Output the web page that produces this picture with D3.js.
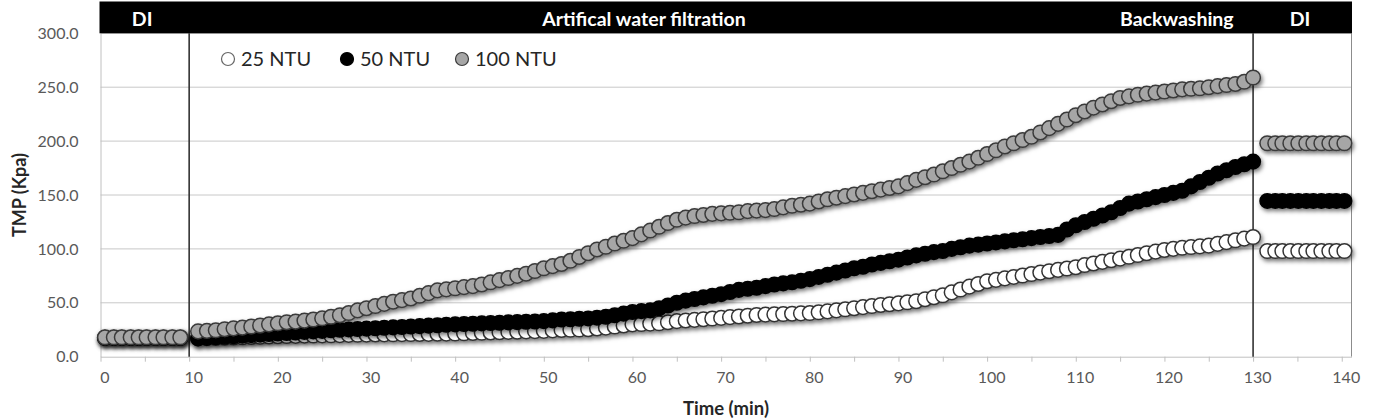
<!DOCTYPE html>
<html>
<head>
<meta charset="utf-8">
<script src="https://cdnjs.cloudflare.com/ajax/libs/d3/7.8.5/d3.min.js"></script>
<style>
  body { margin: 0; background: #fff; }
  text { font-family: Lato, "Open Sans", sans-serif; }
</style>
</head>
<body>
<script>
var w = 1377;
var h = 420;

// time (min) of each reading
var time = [0.5, 1.5, 2.4, 3.4, 4.3, 5.2, 6.2, 7.1, 8.1, 9.0,
  11, 12, 13, 14, 15, 16, 17, 18, 19, 20,
  21, 22, 23, 24, 25, 26, 27, 28, 29, 30,
  31, 32, 33, 34, 35, 36, 37, 38, 39, 40,
  41, 42, 43, 44, 45, 46, 47, 48, 49, 50,
  51, 52, 53, 54, 55, 56, 57, 58, 59, 60,
  61, 62, 63, 64, 65, 66, 67, 68, 69, 70,
  71, 72, 73, 74, 75, 76, 77, 78, 79, 80,
  81, 82, 83, 84, 85, 86, 87, 88, 89, 90,
  91, 92, 93, 94, 95, 96, 97, 98, 99, 100,
  101, 102, 103, 104, 105, 106, 107, 108, 109, 110,
  111, 112, 113, 114, 115, 116, 117, 118, 119, 120,
  121, 122, 123, 124, 125, 126, 127, 128, 129, 130,
  131.6, 132.5, 133.3, 134.2, 135.1, 136.0, 136.8, 137.7, 138.6, 139.4, 140.3];

var ntu25 = [17.5, 17.5, 17.5, 17.5, 17.5, 17.5, 17.5, 17.5, 17.5, 17.5,
  17, 17.2, 17.4, 17.6, 17.8, 18, 18.3, 18.5, 18.8, 19,
  19.2, 19.3, 19.5, 19.6, 19.8, 19.9, 20, 20.2, 20.3, 20.5,
  20.6, 20.7, 20.8, 20.9, 21, 21.1, 21.2, 21.3, 21.4, 21.5,
  21.7, 22, 22.2, 22.5, 22.7, 23, 23.2, 23.5, 23.7, 24,
  24.4, 24.8, 25, 25.2, 25.5, 26.2, 27, 28, 29, 30,
  30.3, 30.7, 31, 32, 33, 33.6, 34.2, 34.8, 35.4, 36,
  36.7, 37.3, 38, 38.7, 39, 39.3, 39.6, 39.9, 40.2, 40.5,
  41.2, 42, 43, 44, 45, 46, 47, 48, 48.7, 49.5,
  50.5, 51.5, 53.3, 55.2, 57, 59.7, 62.3, 65, 67.5, 70,
  71.3, 72.7, 74, 75.3, 76.7, 78, 79.3, 80.5, 81.8, 83,
  85, 86.5, 88, 89.5, 91, 92.7, 94.3, 96, 97.5, 99,
  100, 101, 101.7, 102.3, 103, 104.7, 106.3, 108, 109.5, 111,
  98, 98, 98, 98, 98, 98, 98, 98, 98, 98, 98];

var ntu50 = [17.5, 17.5, 17.5, 17.5, 17.5, 17.5, 17.5, 17.5, 17.5, 17.5,
  17, 17.5, 18, 18.5, 19, 19.5, 20, 20.5, 21, 21.5,
  22, 22.5, 23, 23.5, 24, 24.5, 25, 25.3, 25.7, 26,
  26.4, 26.8, 27.2, 27.6, 28, 28.4, 28.8, 29.2, 29.6, 30,
  30.3, 30.6, 30.9, 31.2, 31.5, 31.8, 32.1, 32.4, 32.7, 33,
  33.7, 34.5, 34.8, 35.2, 35.5, 36.2, 37, 38.5, 40, 41.5,
  42.3, 43, 45, 47.5, 50, 52, 53.5, 55, 56.5, 58,
  60, 62, 63, 64, 65.5, 67, 68, 69, 70.5, 72,
  74, 76, 78, 80, 82, 83.5, 85.5, 87, 88.5, 90,
  92, 94, 95.5, 97, 98, 100, 101.5, 103, 104, 105,
  106, 107, 108, 109, 110, 111, 112, 113, 118, 122,
  125, 128, 131, 134, 138, 142, 144, 146, 148, 150,
  152, 154, 158, 162, 166, 170, 173, 176, 178.5, 181,
  144.5, 144.5, 144.5, 144.5, 144.5, 144.5, 144.5, 144.5, 144.5, 144.5, 144.5];

var ntu100 = [18, 18, 18, 18, 18, 18, 18, 18, 18, 18,
  23.5, 24, 24.5, 25.5, 26.3, 27, 28, 29, 30, 31,
  32, 32.5, 33.5, 34.5, 35.6, 37, 38.5, 40.5, 43, 45,
  47, 49, 51, 52.5, 54, 56.5, 59, 61.5, 62.5, 63.5,
  64.5, 65.5, 67, 69, 71, 73, 75, 77, 79.5, 82,
  84, 86, 89, 92.5, 96, 99.5, 102, 105, 107.5, 110,
  113.5, 117, 120.5, 124, 127, 129, 130.5, 131.5, 132.5, 133,
  133.5, 134, 135, 135.5, 136, 137, 138.5, 140, 141, 142,
  144, 146, 147.5, 149, 150.5, 152, 153.5, 155, 156.5, 158,
  161, 164, 166.5, 169, 172, 175, 178, 181, 184.5, 188,
  191.5, 195, 198, 201, 204, 208, 212, 216, 220, 224,
  227.5, 231, 234, 237, 240, 241.5, 243, 244, 245, 246,
  247, 248, 248.5, 249, 250, 251, 252, 253, 255, 259,
  198, 198, 198, 198, 198, 198, 198, 198, 198, 198, 198];

var seriesNames = ["25 NTU", "50 NTU", "100 NTU"];
var seriesFill = ["#ffffff", "#000000", "#a6a6a6"];
var seriesStroke = ["#333333", "#000000", "#3a3a3a"];

var phaseLabels = ["DI", "Artifical water filtration", "Backwashing", "DI"];
var phaseCenter = [4.7, 61.3, 121.4, 135.3];
var phaseLines = [10, 130];

var yTicks = [0, 50, 100, 150, 200, 250, 300];
var xTicks = [0, 5, 10, 15, 20, 25, 30, 35, 40, 45, 50, 55, 60, 65, 70,
  75, 80, 85, 90, 95, 100, 105, 110, 115, 120, 125, 130, 135, 140];

var x = d3.scaleLinear().domain([0, 141.1]).range([100.5, 1351.5]);
var y = d3.scaleLinear().domain([0, 300]).range([356.7, 33.3]);

var svg = d3.select("body")
  .append("svg")
  .attr("width", w)
  .attr("height", h);

// soft drop shadow like the spreadsheet markers
var defs = svg.append("defs");
defs.append("filter")
  .attr("id", "shadow")
  .attr("x", "-20%").attr("y", "-20%")
  .attr("width", "140%").attr("height", "160%")
  .append("feDropShadow")
  .attr("dx", 1.5).attr("dy", 2.5)
  .attr("stdDeviation", 2)
  .attr("flood-color", "#000")
  .attr("flood-opacity", 0.55);

// gridlines
svg.append("g")
  .selectAll("line")
  .data(yTicks.slice(1))
  .enter()
  .append("line")
  .attr("x1", x(0)).attr("x2", x(141.1))
  .attr("y1", function(d){ return y(d); })
  .attr("y2", function(d){ return y(d); })
  .attr("stroke", "#c8c8c8")
  .attr("stroke-width", 1);

// y axis
var yAxis = svg.append("g")
  .attr("transform", "translate(" + x(0) + ",0)")
  .call(d3.axisLeft(y).tickValues(yTicks).tickSize(0).tickFormat(d3.format(".1f")));
yAxis.select(".domain").attr("stroke", "#c0c0c0");
yAxis.selectAll("text")
  .attr("x", -22)
  .attr("font-size", "16px")
  .attr("fill", "#595959")
  .style("font-family", "Lato, sans-serif");

// right border
svg.append("line")
  .attr("x1", x(141.1)).attr("x2", x(141.1))
  .attr("y1", y(300)).attr("y2", y(0))
  .attr("stroke", "#8c8c8c");

// x axis
var xAxis = svg.append("g")
  .attr("transform", "translate(0," + y(0) + ")")
  .call(d3.axisBottom(x).tickValues(xTicks).tickSize(5).tickSizeOuter(0)
    .tickFormat(function(d){ return d % 10 === 0 ? d : ""; }));
xAxis.select(".domain").attr("stroke", "#c0c0c0");
xAxis.selectAll("line").attr("stroke", "#c0c0c0");
xAxis.selectAll("text")
  .attr("y", 21)
  .attr("dy", "0.35em")
  .attr("dx", 4)
  .attr("font-size", "16px")
  .attr("fill", "#595959")
  .style("font-family", "Lato, sans-serif");

// phase separators
svg.append("g")
  .selectAll("line")
  .data(phaseLines)
  .enter()
  .append("line")
  .attr("x1", function(d){ return x(d); })
  .attr("x2", function(d){ return x(d); })
  .attr("y1", y(300))
  .attr("y2", y(0))
  .attr("stroke", "#333")
  .attr("stroke-width", 1.6);

// header bar
svg.append("rect")
  .attr("x", x(0) - 1)
  .attr("y", 1.5)
  .attr("width", x(141.1) - x(0) + 1.5)
  .attr("height", y(300) - 1.5)
  .attr("fill", "#000");

svg.append("g")
  .selectAll("text")
  .data(phaseLabels)
  .enter()
  .append("text")
  .attr("x", function(d, i){ return x(phaseCenter[i]); })
  .attr("y", 26)
  .attr("text-anchor", "middle")
  .attr("font-size", "19.5px")
  .attr("font-weight", "bold")
  .attr("fill", "#fff")
  .text(function(d){ return d; });

// series, drawn 25 -> 50 -> 100 so the grey sits on top
var allSeries = [ntu25, ntu50, ntu100];
allSeries.forEach(function(vals, s) {
  svg.append("g")
    .attr("filter", "url(#shadow)")
    .selectAll("circle")
    .data(vals)
    .enter()
    .append("circle")
    .attr("cx", function(d, i){ return x(time[i]); })
    .attr("cy", function(d){ return y(d); })
    .attr("r", 7.3)
    .attr("fill", seriesFill[s])
    .attr("stroke", seriesStroke[s])
    .attr("stroke-width", 1.5);
});

// legend
var legendX = [228, 347, 462];
var legend = svg.append("g")
  .selectAll("g")
  .data(seriesNames)
  .enter()
  .append("g")
  .attr("transform", function(d, i){ return "translate(" + legendX[i] + ",59)"; });

legend.append("circle")
  .attr("r", 6.5)
  .attr("fill", function(d, i){ return seriesFill[i]; })
  .attr("stroke", function(d, i){ return i == 0 ? "#666" : seriesStroke[i]; })
  .attr("stroke-width", 1.2);

legend.append("text")
  .attr("x", 13)
  .attr("dy", "0.36em")
  .attr("font-size", "20px")
  .attr("fill", "#262626")
  .text(function(d){ return d; });

// axis titles
svg.append("text")
  .attr("transform", "translate(26," + ((y(0) + y(300)) / 2) + ") rotate(-90)")
  .attr("text-anchor", "middle")
  .attr("font-size", "18px")
  .attr("font-weight", "bold")
  .attr("fill", "#262626")
  .text("TMP (Kpa)");

svg.append("text")
  .attr("x", (x(0) + x(141.1)) / 2)
  .attr("y", 415)
  .attr("text-anchor", "middle")
  .attr("font-size", "18.5px")
  .attr("font-weight", "bold")
  .attr("fill", "#262626")
  .text("Time (min)");
</script>
</body>
</html>
